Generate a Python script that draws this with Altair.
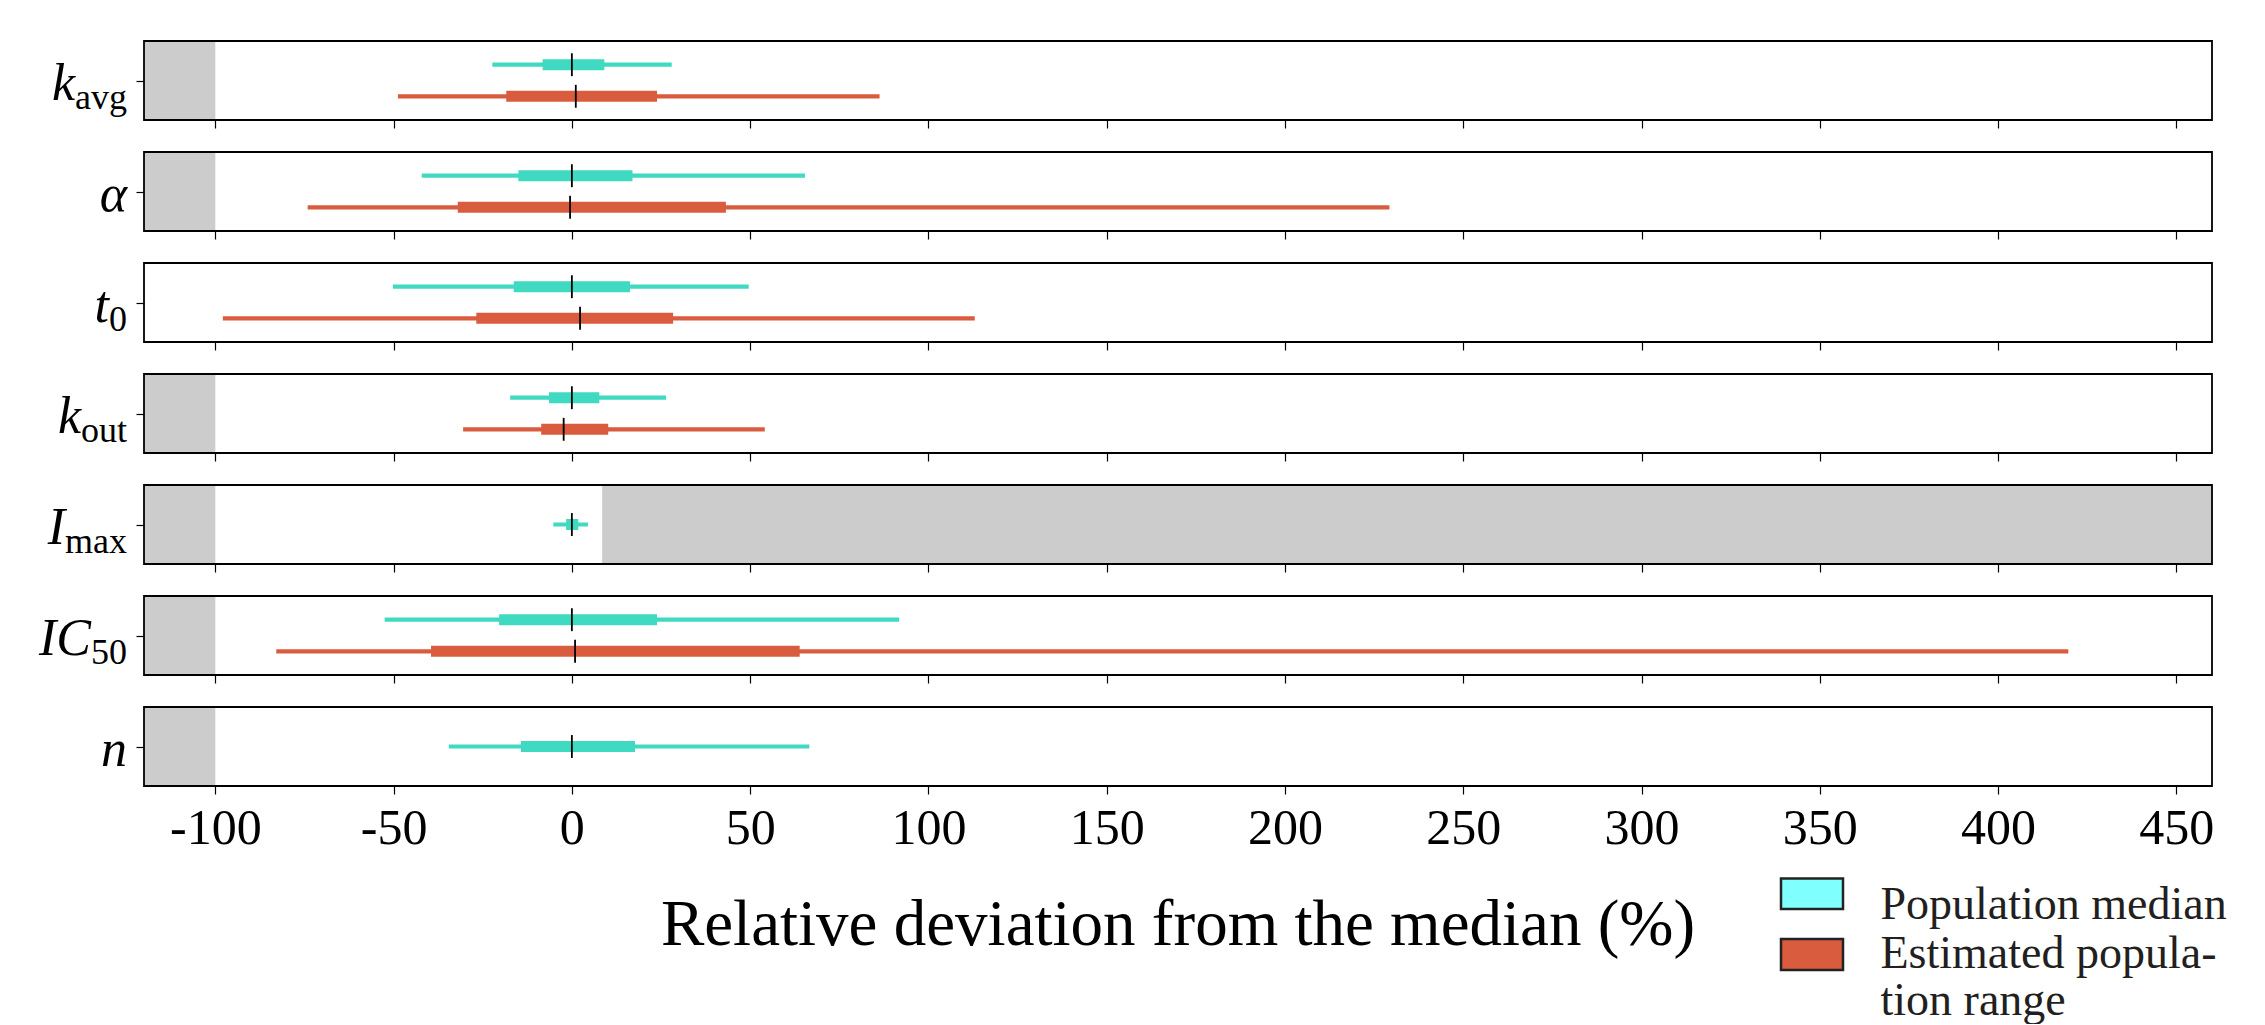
import altair as alt
import pandas as pd

# ---------------- data ----------------
PARAMS = ["k_avg", "alpha", "t0", "k_out", "I_max", "IC50", "n"]
MAIN = ["k", "α", "t", "k", "I", "IC", "n"]
SUB = ["avg", "", "0", "out", "max", "50", ""]

# Population median (cyan): whisker low, box low, median, box high, whisker high
CY_LO = [-22.3, -42.1, -50.2, -17.3, -5.2, -52.5, -34.5]
CY_Q1 = [-8.2, -15.0, -16.3, -6.4, -1.6, -20.4, -14.3]
CY_MED = [0.0, 0.0, 0.0, 0.0, 0.0, 0.0, 0.0]
CY_Q3 = [9.1, 17.0, 16.3, 7.7, 1.8, 23.9, 17.7]
CY_HI = [28.0, 65.4, 49.6, 26.4, 4.5, 91.8, 66.6]

# Estimated population range (orange); None = not shown
OR_LO = [-48.8, -74.1, -97.9, -30.5, None, -82.9, None]
OR_Q1 = [-18.4, -32.0, -26.8, -8.6, None, -39.5, None]
OR_MED = [1.1, -0.5, 2.3, -2.3, None, 0.9, None]
OR_Q3 = [23.9, 43.2, 28.4, 10.2, None, 63.9, None]
OR_HI = [86.3, 229.3, 113.0, 54.1, None, 419.7, None]

# grey (infeasible) regions per panel
GREY_LO = [[-120], [-120], [], [-120], [-120, 8.5], [-120], [-120]]
GREY_HI = [[-100], [-100], [], [-100], [-100, 460], [-100], [-100]]

TICKS = [-100, -50, 0, 50, 100, 150, 200, 250, 300, 350, 400, 450]
XTITLE = "Relative deviation from the median (%)"
LEG_LABELS = ["Population median", "Estimated popula-", "tion range"]

# ---------------- style ----------------
CYAN = "#40D9C1"
ORANGE = "#DA5C3E"
LEG_CYAN = "#80FFFF"
GREY = "#CCCCCC"
FONT = "Liberation Serif"
W, H = 2068, 79
XDOM = [-120, 460]

TIMES_W = {'a': .444, 'v': .5, 'g': .5, '0': .5, '5': .5, 'o': .5, 'u': .5,
           't': .278, 'm': .778, 'x': .5}
MAIN_FS, SUB_FS = 52, 36
LABEL_RIGHT = -17


def xaxis(show_labels):
    return alt.Axis(values=TICKS, tickSize=8, tickColor="black", tickWidth=1.2,
                    domain=False, grid=False, labels=show_labels, title=None,
                    labelFont=FONT, labelFontSize=50, labelColor="black",
                    labelBaseline="alphabetic", labelPadding=49, labelFlush=False,
                    labelExpr="'' + datum.value")


YAXIS = alt.Axis(values=[0], tickSize=8, tickColor="black", tickWidth=1.2,
                 domain=False, grid=False, labels=False, title=None)
XSCALE = alt.Scale(domain=XDOM, nice=False, zero=False)
YSCALE = alt.Scale(domain=[-0.5, 0.5], nice=False, zero=False)
ONE = pd.DataFrame({"k": [0]})


def panel(i, last=False, first=False):
    ax = xaxis(last)
    rows = []
    has_or = OR_LO[i] is not None
    ycy = 0.2 if has_or else 0.0
    rows.append(dict(lo=CY_LO[i], q1=CY_Q1[i], med=CY_MED[i], q3=CY_Q3[i],
                     hi=CY_HI[i], y=ycy, c=CYAN))
    if has_or:
        rows.append(dict(lo=OR_LO[i], q1=OR_Q1[i], med=OR_MED[i], q3=OR_Q3[i],
                         hi=OR_HI[i], y=-0.2, c=ORANGE))
    df = pd.DataFrame(rows)
    df["yt"] = df["y"] + 0.145
    df["yb"] = df["y"] - 0.145

    layers = []
    if GREY_LO[i]:
        gdf = pd.DataFrame({"a": GREY_LO[i], "b": GREY_HI[i]})
        layers.append(alt.Chart(gdf).mark_rect(color=GREY).encode(
            x=alt.X("a:Q", scale=XSCALE, axis=ax), x2="b:Q",
            y=alt.value(0), y2=alt.value(H)))
    base = alt.Chart(df)
    layers.append(base.mark_rule(strokeWidth=4.2, strokeCap="butt").encode(
        x=alt.X("lo:Q", scale=XSCALE, axis=ax), x2="hi:Q",
        y=alt.Y("y:Q", scale=YSCALE, axis=YAXIS),
        color=alt.Color("c:N", scale=None)))
    layers.append(base.mark_rule(strokeWidth=11, strokeCap="butt").encode(
        x=alt.X("q1:Q", scale=XSCALE, axis=ax), x2="q3:Q",
        y=alt.Y("y:Q", scale=YSCALE, axis=YAXIS),
        color=alt.Color("c:N", scale=None)))
    layers.append(base.mark_rule(color="black", strokeWidth=1.8).encode(
        x=alt.X("med:Q", scale=XSCALE, axis=ax),
        y=alt.Y("yt:Q", scale=YSCALE, axis=YAXIS), y2="yb:Q"))
    # frame
    layers.append(alt.Chart(ONE).mark_rect(fillOpacity=0, stroke="black",
                                           strokeWidth=1.8).encode(
        x=alt.value(0), x2=alt.value(W), y=alt.value(0), y2=alt.value(H)))
    # y labels (italic main symbol + upright subscript)
    sub = SUB[i]
    subw = sum(TIMES_W.get(ch, .5) for ch in sub) * SUB_FS
    mid = H / 2
    layers.append(alt.Chart(ONE).mark_text(
        text=MAIN[i], font=FONT, fontStyle="italic", fontSize=MAIN_FS,
        align="right", baseline="alphabetic", color="black").encode(
        x=alt.value(LABEL_RIGHT - subw), y=alt.value(mid + 19)))
    if sub:
        layers.append(alt.Chart(ONE).mark_text(
            text=sub, font=FONT, fontSize=SUB_FS, align="right",
            baseline="alphabetic", color="black").encode(
            x=alt.value(LABEL_RIGHT), y=alt.value(mid + 28)))
    if first:
        layers.append(alt.Chart(ONE).mark_rule(opacity=0).encode(
            x=alt.value(-135.5), x2=alt.value(-135), y=alt.value(-32.7)))
    if last:
        layers.append(alt.Chart(ONE).mark_text(
            text=XTITLE, font=FONT, fontSize=65, align="center",
            baseline="alphabetic", color="black").encode(
            x=alt.value(W / 2), y=alt.value(H + 159)))
        leg = pd.DataFrame({"x0": [1637, 1637], "x1": [1699, 1699],
                            "y0": [H + 92.5, H + 153], "y1": [H + 123, H + 184],
                            "c": [LEG_CYAN, ORANGE]})
        layers.append(alt.Chart(leg).mark_rect(stroke="#222222", strokeWidth=2.5).encode(
            x=alt.X("x0:Q", scale=None), x2="x1:Q",
            y=alt.Y("y0:Q", scale=None), y2="y1:Q",
            color=alt.Color("c:N", scale=None)))
        ltxt = pd.DataFrame({"t": LEG_LABELS, "yy": [H + 133, H + 182, H + 229]})
        layers.append(alt.Chart(ltxt).mark_text(
            font=FONT, fontSize=46, align="left", baseline="alphabetic",
            color="#231F20").encode(
            text="t:N", x=alt.value(1736.5), y=alt.Y("yy:Q", scale=None)))
    return alt.layer(*layers).properties(width=W, height=H)


panels = [panel(i, last=(i == len(PARAMS) - 1), first=(i == 0))
          for i in range(len(PARAMS))]
chart = alt.vconcat(*panels, spacing=32, bounds="flush").properties(
    padding=0).configure_view(stroke=None)

chart.save("out.html", embed_options={"renderer": "svg", "actions": False})
